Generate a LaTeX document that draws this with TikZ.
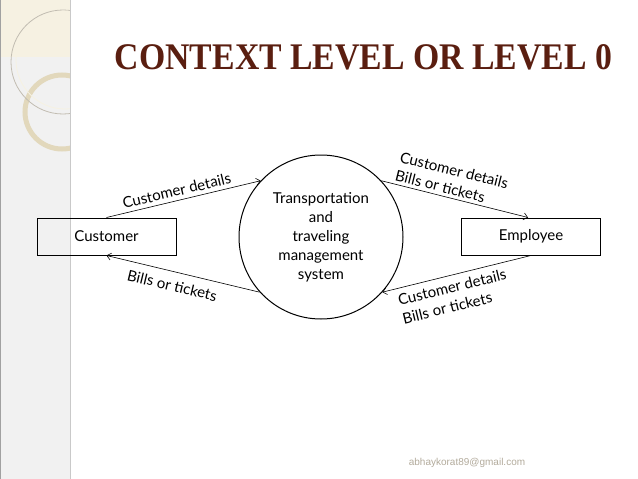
\documentclass[tikz,border=0pt]{standalone}
\usepackage{fontspec}
\setmainfont{Lato}
\newfontfamily\titlefont{Liberation Serif}
\newfontfamily\mailfont{Liberation Sans}
\usetikzlibrary{arrows.meta,calc}
\definecolor{sidebar}{HTML}{F1F1F1}
\definecolor{sideline}{HTML}{C9C9C9}
\definecolor{cream}{HTML}{F6F1E2}
\definecolor{beige}{HTML}{E2D8BC}
\definecolor{ringgrey}{HTML}{C2BDB2}
\definecolor{titlebrown}{HTML}{5A1E10}
\definecolor{mailgrey}{HTML}{B3AB9C}
\begin{document}
\begin{tikzpicture}[x=1pt,y=-1pt,
  every node/.style={font=\fontsize{15}{19}\selectfont},
  entity/.style={draw,line width=1pt,minimum width=139pt,minimum height=37pt,inner sep=0pt},
  proc/.style={draw,circle,line width=1pt,minimum size=164pt,inner sep=0pt,align=center},
  flow/.style={line width=0.6pt,-{Straight Barb[length=4pt,width=7pt]}},
  flowlabel/.style={sloped,align=left,inner sep=1pt}]
\useasboundingbox (0,0) rectangle (638,479);
\fill[white] (0,0) rectangle (638,479);
% sidebar decoration
\fill[sidebar] (0,0) rectangle (70,479);
\fill[cream] (0,0) rectangle (70,57);
\begin{scope}
\clip (0,0) rectangle (70,479);
\draw[beige,line width=5pt] (62,112) circle (37);
\draw[ringgrey,line width=0.8pt] (63,62) circle (52);
\draw[cream,line width=0.8pt] (65,60) circle (49);
\end{scope}
\draw[sideline,line width=1pt] (70,0) -- (70,479);
\draw[sideline!80!black,line width=0.6pt] (0.5,0) -- (0.5,479);
% title
\node[inner sep=0pt,text=titlebrown] (title) at (363.5,57.5)
  {\resizebox{497pt}{25pt}{\titlefont\bfseries CONTEXT LEVEL OR LEVEL 0}};
% nodes
\node[entity] (cust) at (106.5,236.5) {Customer};
\node[entity] (emp) at (531,236.5) {Employee};
\node[proc] (sys) at (321,237) {Transportation\\and\\traveling\\management\\system};
% flows
\draw[flow] (cust.north) -- node[flowlabel,above=3pt,pos=0.47] {Customer details} (sys.137);
\draw[flow] (sys.222) -- node[flowlabel,below=7pt,pos=0.55] {Bills or tickets} (cust.south);
\draw[flow] (sys.43) -- node[flowlabel,above=2pt,pos=0.45] {Customer details\\Bills or tickets} ($(emp.north)+(-3,0)$);
\draw[flow] (emp.south) -- node[flowlabel,below=5pt,pos=0.55] {Customer details\\Bills or tickets} (sys.318);
% footer
\node[text=mailgrey,font=\mailfont\fontsize{10}{12}\selectfont] (mail) at (467,463) {abhaykorat89@gmail.com};
\end{tikzpicture}
\end{document}
